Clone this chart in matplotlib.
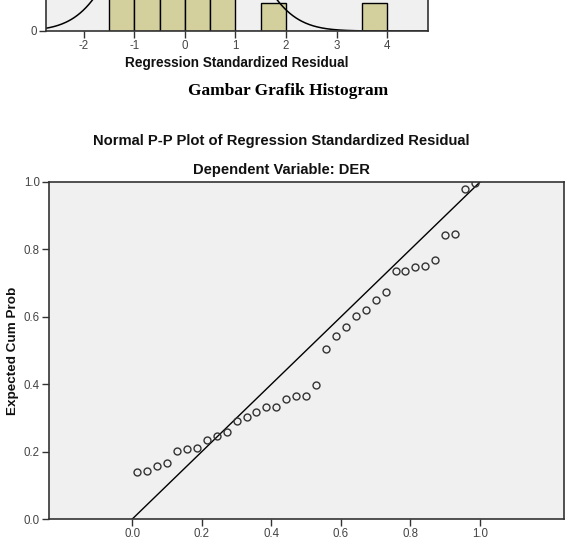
import numpy as np
import matplotlib
matplotlib.use('Agg')
import matplotlib.pyplot as plt

# DATA
# histogram (only the bottom strip is visible in the picture)
hist_edges = [-1.5, -1.0, -0.5, 0.0, 0.5, 1.0, 1.5, 2.0, 2.5, 3.0, 3.5, 4.0]
hist_counts = [4, 7, 9, 8, 5, 0, 1, 0, 0, 0, 1]
resid_mean = 0.0
resid_std = 0.93
n_obs = 35
hist_xticks = [-2, -1, 0, 1, 2, 3, 4]

# normal P-P plot
observed_cum_prob = [0.0143, 0.0429, 0.0714, 0.1000, 0.1286, 0.1571, 0.1857,
                     0.2143, 0.2429, 0.2714, 0.3000, 0.3286, 0.3571, 0.3857,
                     0.4143, 0.4429, 0.4714, 0.5000, 0.5286, 0.5571, 0.5857,
                     0.6143, 0.6429, 0.6714, 0.7000, 0.7286, 0.7571, 0.7857,
                     0.8143, 0.8429, 0.8714, 0.9000, 0.9286, 0.9571, 0.9857]
expected_cum_prob = [0.139, 0.142, 0.158, 0.165, 0.201, 0.209, 0.212,
                     0.234, 0.246, 0.259, 0.290, 0.302, 0.317, 0.331,
                     0.333, 0.355, 0.366, 0.366, 0.399, 0.504, 0.543,
                     0.570, 0.602, 0.621, 0.650, 0.673, 0.736, 0.737,
                     0.749, 0.752, 0.769, 0.843, 0.846, 0.979, 0.997]
pp_ticks = [0.0, 0.2, 0.4, 0.6, 0.8, 1.0]

# STYLE
W, H = 570, 540
BG = '#F0F0F0'
SPINE = '#333333'
TICKCOL = '#444444'
plt.rcParams['font.family'] = ['Liberation Sans', 'DejaVu Sans']

fig = plt.figure(figsize=(W / 100, H / 100), dpi=100)
fig.patch.set_facecolor('white')


def px_axes(left, right, top, bottom):
    return fig.add_axes([left / W, 1 - bottom / H, (right - left) / W, (bottom - top) / H])


def style_axes(ax):
    ax.set_facecolor(BG)
    for s in ax.spines.values():
        s.set_color(SPINE)
        s.set_linewidth(1.2)
    ax.tick_params(direction='out', length=5, width=1, color=SPINE,
                   labelsize=8.3, labelcolor=TICKCOL, pad=1.5)


# HISTOGRAM (cut off at top of page)
ax_h = px_axes(45.7, 428.2, -160, 31)
style_axes(ax_h)
widths = np.diff(hist_edges)
ax_h.bar(hist_edges[:-1], hist_counts, width=widths, align='edge',
         color='#D3D09E', edgecolor='black', linewidth=1.0)
xs = np.linspace(-2.75, 4.81, 400)
curve = n_obs * 0.5 / (resid_std * np.sqrt(2 * np.pi)) * np.exp(-0.5 * ((xs - resid_mean) / resid_std) ** 2)
ax_h.plot(xs, curve, color='black', linewidth=1.1)
ax_h.set_xlim(-2.75, 4.81)
ax_h.set_ylim(0, 191 / 28.4)
ax_h.set_xticks(hist_xticks)
ax_h.set_xticklabels([str(t) for t in hist_xticks])
ax_h.set_yticks([0])
ax_h.set_yticklabels(['0'])

fig.text(237 / W, 1 - 62.5 / H, 'Regression Standardized Residual', ha='center', va='center',
         fontsize=9.8, fontweight='bold', color='#111111')
fig.text(288 / W, 1 - 91 / H, 'Gambar Grafik Histogram', ha='center', va='center',
         fontsize=12.5, fontweight='bold', family='Liberation Serif', color='black')

# P-P PLOT
ax = px_axes(49, 564, 182, 519)
style_axes(ax)
ax.plot([0, 1], [0, 1], color='black', linewidth=1.0)
ax.plot(observed_cum_prob, expected_cum_prob, linestyle='none', marker='o', markersize=5,
        markerfacecolor='none', markeredgecolor='#333333', markeredgewidth=1.0)
ax.set_xlim(-0.2396, 1.2416)
ax.set_ylim(0, 1.0)
ax.set_xticks(pp_ticks)
ax.set_xticklabels([f'{t:.1f}' for t in pp_ticks])
ax.set_yticks(pp_ticks)
ax.set_yticklabels([f'{t:.1f}' for t in pp_ticks])
ax.set_ylabel('Expected Cum Prob', fontsize=9.7, fontweight='bold', color='#111111')
ax.yaxis.set_label_coords(-(49 - 19) / 515, 0.5)

fig.text(281 / W, 1 - 141.5 / H, 'Normal P-P Plot of Regression Standardized Residual',
         ha='center', va='center', fontsize=10.6, fontweight='bold', color='#111111')
fig.text(281 / W, 1 - 170 / H, 'Dependent Variable: DER',
         ha='center', va='center', fontsize=10.6, fontweight='bold', color='#111111')

fig.savefig('out.png', dpi=100, facecolor='white')
